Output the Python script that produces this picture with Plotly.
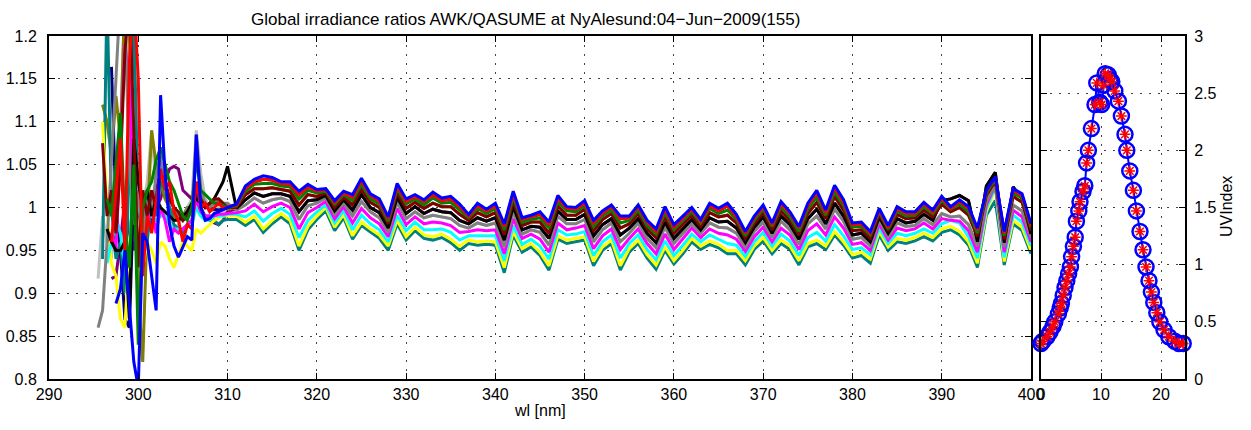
import plotly.graph_objects as go

# wavelength grid [nm]: 0.5 nm steps up to 310, then 1 nm
wl = [295.5 + 0.5 * i for i in range(30)] + list(range(311, 401))

# global irradiance ratios AWK/QASUME, one list per scan
teal = [None, .94, 1.25, 1.00, .94, .96, .90, 1.05, 1.22, 1.00,
        .98, .96, 1.01, .99, 1.03, 1.02, 1.00, .98, .975, .97,
        .98, .985, 1.01, .995, .99, .99, .985, .98, .985, .986,
        .986, .979, .986, .971, .981, .989, .981, .950, .974, .986,
        .996, .973, .988, .963, .979, .971, .964, .950, .981, .962,
        .973, .964, .962, .965, .959, .950, .958, .956, .957, .956,
        .924, .968, .948, .954, .944, .927, .963, .958, .960, .962,
        .932, .950, .958, .927, .948, .958, .941, .928, .950, .934,
        .946, .960, .951, .957, .953, .946, .946, .933, .951, .961,
        .946, .958, .951, .933, .954, .958, .951, .968, .956, .941,
        .944, .935, .968, .950, .960, .958, .961, .966, .961, .971,
        .974, .968, .956, .930, .991, 1.008, .933, .981, .973, .946]

yellow = [None, 1.10, 1.00, .934, .92, .87, .86, .95, 1.03, .97,
          .93, .96, .95, .935, .96, .955, .94, .93, .945, .96,
          .955, .95, .975, .97, .975, .98, .985, .988, .99, .990,
          .990, .983, .990, .975, .985, .993, .985, .955, .978, .990,
          1.000, .977, .992, .967, .983, .975, .968, .955, .985, .966,
          .977, .968, .966, .969, .963, .955, .962, .960, .961, .960,
          .930, .972, .952, .958, .948, .932, .967, .962, .964, .966,
          .937, .954, .962, .932, .952, .962, .945, .933, .954, .938,
          .950, .964, .955, .961, .957, .950, .950, .938, .955, .965,
          .950, .962, .955, .938, .958, .962, .955, .972, .960, .945,
          .948, .940, .972, .954, .964, .962, .965, .970, .965, .975,
          .978, .972, .960, .935, .995, 1.022, .937, .985, .977, .950]

cyan = [None, None, .935, .96, .985, .97, .93, .94, 1.06, 1.01,
        .97, 1.00, .99, .985, .99, .99, .98, .975, .975, .975,
        .98, .98, 1.00, .99, .985, .985, .99, .99, .99, .992,
        .992, .989, .996, .984, .993, .999, .992, .965, .985, .995,
        1.003, .982, .996, .974, .991, .981, .974, .960, .991, .973,
        .983, .974, .974, .975, .971, .962, .967, .967, .967, .967,
        .938, .979, .957, .963, .955, .940, .974, .968, .969, .972,
        .944, .960, .968, .941, .958, .968, .951, .939, .961, .944,
        .956, .969, .960, .968, .963, .958, .956, .943, .960, .971,
        .955, .969, .961, .944, .965, .971, .961, .980, .967, .951,
        .953, .945, .976, .958, .970, .967, .970, .975, .970, .981,
        .985, .982, .966, .941, .999, 1.024, .942, .991, .983, .955]

magenta = [None, None, .96, .97, .95, 1.08, 1.19, 1.15, 1.00, .95,
           1.01, .98, 1.00, .97, 1.00, .985, .96, .975, .97, .975,
           .98, .985, 1.01, .995, .99, .99, .99, .992, .992, .993,
           .994, .996, 1.004, .995, 1.001, 1.005, 1.000, .975, .994, 1.000,
           1.007, .987, 1.001, .982, .999, .988, .981, .966, .999, .980,
           .989, .981, .983, .982, .979, .971, .972, .974, .973, .974,
           .946, .987, .964, .969, .963, .948, .982, .974, .976, .979,
           .952, .967, .975, .951, .964, .975, .958, .946, .969, .951,
           .963, .976, .965, .975, .970, .968, .963, .949, .966, .977,
           .960, .976, .968, .951, .973, .981, .968, .989, .976, .957,
           .959, .950, .981, .962, .976, .973, .975, .982, .975, .987,
           .985, .984, .973, .948, 1.003, 1.026, .948, .997, .989, .960]

gray = [.86, .88, .96, 1.05, 1.15, 1.25, 1.22, 1.05, .98, 1.02,
        .96, 1.01, .99, 1.04, 1.06, 1.02, 1.01, 1.00, .99, .985,
        1.00, .99, 1.085, 1.02, 1.005, 1.00, 1.005, 1.01, 1.005, 1.005,
        .997, 1.003, 1.011, 1.005, 1.009, 1.011, 1.007, .986, 1.002, 1.005,
        1.011, .992, 1.005, .990, 1.007, .995, .988, .971, 1.006, .987,
        .995, .988, .991, .989, .987, .979, .976, .982, .979, .982,
        .954, .995, .969, .974, .971, .956, .990, .981, .981, .986,
        .960, .974, .982, .960, .970, .982, .964, .953, .977, .958,
        .969, .981, .970, .982, .977, .976, .970, .954, .972, .983,
        .965, .984, .974, .957, .981, .990, .975, .998, .984, .963,
        .965, .955, .985, .966, .982, .978, .979, .987, .980, .993,
        .989, .990, .980, .955, 1.007, 1.025, .954, 1.003, .996, .965]

black = [None, None, .975, .96, .95, .95, .96, .87, 1.08, 1.03,
         1.00, 1.02, .99, 1.01, 1.00, .995, .99, .985, .985, .99,
         .995, 1.005, 1.01, 1.005, 1.00, 1.005, 1.01, 1.02, 1.03, 1.048,
         .999, 1.009, 1.017, 1.013, 1.016, 1.016, 1.013, .995, 1.008, 1.009,
         1.014, .996, 1.009, .997, 1.015, 1.000, .994, .976, 1.012, .993,
         1.001, .993, .998, .995, .994, .985, .981, .988, .984, .988,
         .962, 1.001, .974, .978, .977, .964, .996, .986, .986, .992,
         .967, .980, .987, .968, .976, .987, .970, .959, .983, .964,
         .975, .986, .974, .988, .983, .984, .976, .959, .977, .989,
         .970, .990, .980, .963, .987, .998, .981, 1.005, .990, .968,
         .970, .960, .989, .970, .987, .982, .984, .992, .985, 1.008,
         1.010, 1.014, 1.008, .960, 1.025, 1.041, .959, 1.024, 1.010, .969]

maroon = [None, 1.075, .99, 1.02, .97, 1.05, 1.18, 1.25, 1.10, .93,
          1.02, .99, 1.02, 1.00, 1.04, 1.03, 1.01, 1.00, .995, .985,
          .99, 1.00, 1.03, 1.01, 1.00, 1.005, 1.01, 1.01, 1.005, 1.000,
          1.000, 1.015, 1.022, 1.022, 1.023, 1.021, 1.019, 1.003, 1.015, 1.013,
          1.017, 1.000, 1.012, 1.003, 1.021, 1.006, 1.000, .981, 1.017, .999,
          1.006, .999, 1.005, 1.001, 1.001, .992, .985, .994, .989, .994,
          .968, 1.007, .979, .983, .983, .970, 1.002, .991, .991, .998,
          .973, .986, .993, .976, .981, .993, .975, .965, .989, .970,
          .980, .991, .978, .994, .989, .991, .982, .964, .981, .994,
          .974, .996, .985, .968, .993, 1.006, .987, 1.013, .997, .973,
          .974, .964, .992, .973, .992, .987, .988, .997, .989, 1.004,
          .995, 1.000, .991, .966, 1.014, 1.031, .963, 1.013, 1.006, .973]

green = [None, None, 1.01, .99, 1.05, 1.11, .98, .93, 1.05, .84,
         1.00, 1.02, 1.03, 1.055, 1.07, 1.05, 1.03, 1.02, 1.005, .99,
         .985, 1.00, 1.057, 1.02, 1.015, 1.01, 1.005, 1.005, 1.002, 1.000,
         1.002, 1.019, 1.027, 1.028, 1.028, 1.025, 1.024, 1.010, 1.020, 1.017,
         1.019, 1.004, 1.015, 1.008, 1.027, 1.010, 1.004, .984, 1.022, 1.004,
         1.010, 1.003, 1.011, 1.005, 1.006, .997, .988, .999, .993, .999,
         .974, 1.012, .983, .986, .988, .976, 1.007, .996, .995, 1.002,
         .978, .990, .997, .982, .985, .997, .979, .969, .994, .974,
         .984, .995, .982, .999, .993, .997, .986, .967, .985, .998,
         .978, 1.001, .989, .972, .998, 1.012, .991, 1.018, 1.002, .977,
         .978, .968, .995, .975, .996, .990, .991, 1.001, .993, 1.008,
         .998, 1.004, .995, .970, 1.017, 1.033, .967, 1.017, 1.011, .977]

red = [None, None, None, .96, 1.02, 1.08, .95, 1.17, 1.25, 1.15,
       .92, .99, .97, 1.01, 1.045, 1.02, 1.03, .995, .985, .96,
       .98, .975, 1.03, 1.00, 1.005, .995, 1.000, 1.005, 1.000, 1.000,
       1.003, 1.022, 1.030, 1.033, 1.032, 1.028, 1.027, 1.015, 1.024, 1.019,
       1.021, 1.006, 1.017, 1.012, 1.031, 1.014, 1.007, .987, 1.025, 1.007,
       1.013, 1.007, 1.015, 1.008, 1.010, 1.001, .990, 1.002, .996, 1.002,
       .978, 1.016, .986, .989, .992, .980, 1.011, .999, .998, 1.005,
       .982, .993, 1.001, .987, .988, 1.001, .983, .972, .998, .977,
       .988, .998, .984, 1.002, .996, 1.002, .989, .970, .988, 1.001,
       .980, 1.004, .993, .976, 1.002, 1.017, .994, 1.023, 1.006, .980,
       .981, .970, .997, .977, .999, .993, .993, 1.004, .995, 1.011,
       .999, 1.007, .999, .974, 1.019, 1.035, .970, 1.020, 1.014, .979]

blue = [None, None, None, None, .888, .905, .95, .88, .82, .79,
        .97, .96, .92, .88, 1.131, 1.04, .98, .955, .942, .955,
        .966, .962, 1.085, 1.00, .985, .987, .993, .995, .998, 1.000,
        1.004, 1.025, 1.033, 1.037, 1.035, 1.030, 1.030, 1.019, 1.027, 1.021,
        1.022, 1.008, 1.019, 1.015, 1.034, 1.016, 1.010, .989, 1.028, 1.010,
        1.015, 1.009, 1.018, 1.011, 1.013, 1.004, .992, 1.005, .998, 1.005,
        .981, 1.019, .988, .991, .995, .983, 1.014, 1.001, 1.000, 1.008,
        .985, .996, 1.003, .990, .990, 1.003, .985, .975, 1.001, .980,
        .990, 1.000, .986, 1.005, .999, 1.005, .992, .972, .990, 1.003,
        .982, 1.007, .995, .978, 1.005, 1.020, .997, 1.026, 1.009, .982,
        .983, .972, .999, .979, 1.001, .995, .995, 1.006, .997, 1.013,
        1.001, 1.009, 1.001, .976, 1.020, 1.036, .972, 1.022, 1.016, .981]

# scans that only stand out below 310 nm; above that they sit inside the band
silver = [.917, .99, .96, .94, 1.02, 1.08, 1.25, 1.10, .97, .95,
          1.00, 1.03, 1.09, 1.02, 1.00, .99, .985, .975, .98, .99,
          1.00, 1.01, 1.09, 1.04, 1.01, 1.00, .995, 1.00, .995, .995] + gray[30:]
purple = [None, None, None, .917, .92, .96, 1.01, .97, .95, 1.00,
          .99, 1.00, .98, 1.00, 1.01, 1.03, 1.045, 1.048, 1.045, 1.02,
          1.015, 1.01, 1.02, 1.00, .99, .985, .982, .98, .985, .995] + black[30:]
olive = [None, 1.12, 1.10, 1.06, 1.13, 1.08, 1.25, 1.20, 1.05, .90,
         .82, .98, 1.09, 1.05, 1.03, 1.01, 1.00, .99, .985, .99,
         1.00, 1.00, 1.02, 1.01, 1.005, 1.00, 1.01, 1.005, 1.00, .998] + maroon[30:]
navy = [None, None, None, 1.164, 1.00, .95, .87, .86, 1.02, .98,
        .96, .99, 1.00, 1.02, 1.04, 1.03, 1.01, 1.00, .99, .985,
        .99, .995, 1.02, 1.005, 1.00, 1.00, .998, .997, .998, 1.000] + red[30:]

# UV index over the day
uv_hour = [0.0, 0.3, 1.0, 1.5, 2.0, 2.3, 2.9, 3.2, 3.4, 3.7,
           4.0, 4.3, 4.6, 4.9, 5.1, 5.4, 5.7, 5.9, 6.3, 6.5,
           7.0, 7.3, 7.6, 7.9, 8.4, 9.0, 9.3, 9.8, 10.1, 10.4,
           10.7, 11.2, 11.5, 11.8, 12.3, 12.9, 13.4, 14.0, 14.3, 14.8,
           15.4, 15.9, 16.5, 17.0, 17.5, 18.0, 18.4, 18.8, 19.3, 19.8,
           20.5, 21.3, 22.3, 23.0, 23.7]
uv_index = [0.31, 0.33, 0.37, 0.41, 0.46, 0.50, 0.57, 0.62, 0.66, 0.73,
            0.80, 0.86, 0.92, 0.98, 1.07, 1.16, 1.24, 1.38, 1.47, 1.55,
            1.64, 1.69, 1.89, 2.00, 2.19, 2.40, 2.59, 2.42, 2.40, 2.57,
            2.67, 2.66, 2.62, 2.60, 2.52, 2.43, 2.30, 2.14, 2.00, 1.82,
            1.65, 1.47, 1.29, 1.13, 0.98, 0.86, 0.76, 0.67, 0.58, 0.50,
            0.43, 0.37, 0.33, 0.31, 0.31]

ratio_ticks = [0.8, 0.85, 0.9, 0.95, 1.0, 1.05, 1.1, 1.15, 1.2]
ratio_labels = ["0.8", "0.85", "0.9", "0.95", "1", "1.05", "1.1", "1.15", "1.2"]
uv_ticks = [0, 0.5, 1, 1.5, 2, 2.5, 3]
uv_labels = ["0", "0.5", "1", "1.5", "2", "2.5", "3"]

scans = [
    (silver, "#c0c0c0"), (purple, "#800080"), (olive, "#808000"), (navy, "#000080"),
    (teal, "#008080"), (yellow, "#ffff00"), (cyan, "#00ffff"), (magenta, "#ff00ff"),
    (gray, "#808080"), (black, "#000000"), (maroon, "#800000"), (green, "#008000"),
    (red, "#ff0000"), (blue, "#0000ff"),
]

W, H = 1251, 430
FONT = "Liberation Sans, Arial, sans-serif"

fig = go.Figure()
for vals, col in scans:
    fig.add_trace(go.Scatter(x=wl, y=vals, mode="lines",
                             line=dict(color=col, width=3),
                             connectgaps=False, showlegend=False,
                             hoverinfo="skip"))

fig.add_trace(go.Scatter(x=uv_hour, y=uv_index, mode="lines+markers",
                         xaxis="x2", yaxis="y2", cliponaxis=False,
                         line=dict(color="#0000ff", width=2),
                         marker=dict(symbol="circle-open", size=15,
                                     color="#0000ff", line=dict(width=2.5)),
                         showlegend=False))
fig.add_trace(go.Scatter(x=uv_hour, y=uv_index, mode="markers",
                         xaxis="x2", yaxis="y2", cliponaxis=False,
                         marker=dict(symbol="asterisk-open", size=9,
                                     color="#ff0000", line=dict(width=1.5, color="#ff0000")),
                         showlegend=False))

# template axes have automargin on, which shrinks the plot; keep it off
axis_style = dict(showline=True, linewidth=2, linecolor="black", mirror="ticks",
                  ticks="inside", ticklen=6, tickwidth=1, tickcolor="black",
                  showgrid=True, gridcolor="#444", gridwidth=1, griddash="2px,7px",
                  zeroline=False, automargin=False,
                  tickfont=dict(family=FONT, size=16, color="black"))

fig.update_layout(
    template="none",
    width=W, height=H,
    margin=dict(l=0, r=0, t=0, b=0, autoexpand=False),
    paper_bgcolor="white", plot_bgcolor="white",
    font=dict(family=FONT, size=16, color="black"),
    showlegend=False,
    xaxis=dict(domain=[49 / W, 1031 / W], range=[290, 400],
               tickvals=list(range(290, 401, 10)), anchor="y", **axis_style),
    yaxis=dict(domain=[1 - 379 / H, 1 - 36 / H], range=[0.8, 1.2],
               tickvals=ratio_ticks, ticktext=ratio_labels, anchor="x",
               ticklabelstandoff=7, **axis_style),
    xaxis2=dict(domain=[1041 / W, 1185 / W], range=[0, 24],
                tickvals=[0, 10, 20], anchor="y2", **axis_style),
    yaxis2=dict(domain=[1 - 379 / H, 1 - 36 / H], range=[0, 3], side="right",
                tickvals=uv_ticks, ticktext=uv_labels, anchor="x2",
                ticklabelstandoff=4, **axis_style),
    annotations=[
        dict(text="Global irradiance ratios AWK/QASUME at NyAlesund:04\u2212Jun\u22122009(155)",
             x=525 / W, y=1 - 19 / H, xref="paper", yref="paper",
             xanchor="center", yanchor="middle",
             showarrow=False, font=dict(family=FONT, size=17)),
        dict(text="wl [nm]", x=540 / W, y=1 - 410 / H, xref="paper", yref="paper",
             xanchor="center", yanchor="middle",
             showarrow=False, font=dict(family=FONT, size=16)),
        dict(text="UVIndex", x=1226 / W, y=1 - 207 / H, xref="paper", yref="paper",
             xanchor="center", yanchor="middle", textangle=-90,
             showarrow=False, font=dict(family=FONT, size=16)),
    ],
)

# page has a default body margin; drop it so the figure fills the window exactly
fig.write_html("out.html", config={"displayModeBar": False},
               post_script="document.body.style.margin='0';"
                           "document.body.style.overflow='hidden';")
